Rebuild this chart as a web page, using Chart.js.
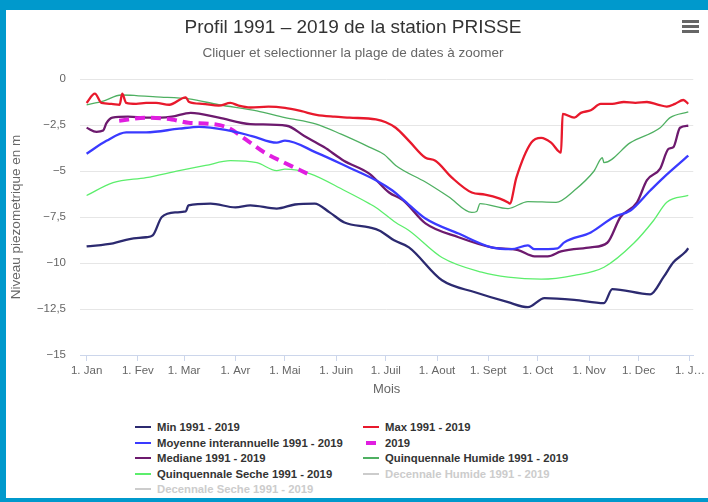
<!DOCTYPE html>
<html>
<head>
<meta charset="utf-8">
<script src="https://cdn.jsdelivr.net/npm/chart.js@4/dist/chart.umd.min.js"></script>
<style>
body{margin:0;background:#0099cc;width:708px;height:502px;overflow:hidden;font-family:"Liberation Sans",Arial,sans-serif}
#box{position:absolute;left:6px;top:10px;width:702px;height:488px;background:#fff}
#wrap{position:absolute;left:0;top:0;width:702px;height:400px}
#menu{position:absolute;left:676px;top:10px;width:17px}
#menu div{height:3px;background:#666;margin-bottom:2px}
.item{position:absolute;font-weight:bold;font-size:11.3px;color:#333;white-space:nowrap;line-height:14px;cursor:pointer}
.sym{position:absolute;top:6px}
</style>
</head>
<body>
<div id="box">
  <div id="wrap"><canvas id="profil"></canvas></div>
  <div id="menu"><div></div><div></div><div></div></div>
  <div id="legend"></div>
</div>
<script>
// jours depuis le 1er janvier, niveau en m
const monthDays = [0,31,59,90,120,151,181,212,243,273,304,334,365];
const monthLabels = ['1. Jan','1. Fev','1. Mar','1. Avr','1. Mai','1. Juin','1. Juil','1. Aout','1. Sept','1. Oct','1. Nov','1. Dec','1. J\u2026'];

const minSerie = [[0,-9.1],[16,-8.93],[26,-8.7],[36,-8.6],[40,-8.5],[45.5,-7.5],[54,-7.25],[60,-7.2],[61.6,-6.87],[75,-6.77],[90,-6.98],[99,-6.87],[115,-7.04],[126,-6.82],[138,-6.77],[147,-7.25],[156,-7.8],[171,-8.07],[177,-8.23],[186,-8.77],[195,-9.15],[215,-10.94],[235,-11.59],[255,-12.13],[267,-12.4],[277,-11.91],[295,-12.0],[313,-12.18],[318,-11.42],[341,-11.7],[349,-10.77],[355,-9.96],[362,-9.42],[364,-9.2]];
const maxSerie = [[0,-1.3],[5,-0.8],[9,-1.3],[15,-1.35],[20,-1.4],[21.5,-0.8],[24,-1.3],[30,-1.35],[36,-1.3],[42,-1.3],[50,-1.4],[60,-1.0],[62,-1.25],[70,-1.35],[80,-1.45],[87,-1.3],[92,-1.45],[99,-1.55],[110,-1.5],[120,-1.57],[130,-1.75],[139,-1.95],[150,-2.05],[159,-2.1],[175,-2.2],[181,-2.35],[187,-2.65],[195,-3.36],[205,-4.28],[211,-4.44],[221,-5.36],[233,-6.17],[241,-6.28],[250,-6.5],[255,-6.71],[256,-6.77],[260,-5.36],[269,-3.46],[275,-3.2],[281,-3.46],[287,-4.0],[288,-1.9],[295,-2.1],[299,-1.84],[305,-1.7],[311,-1.35],[318,-1.35],[325,-1.25],[332,-1.3],[339,-1.25],[346,-1.4],[351,-1.5],[356,-1.35],[361,-1.14],[364,-1.35]];
const moyenneSerie = [[0,-4.06],[12,-3.36],[24,-2.9],[36,-2.9],[56,-2.7],[68,-2.6],[84,-2.76],[100,-3.1],[115,-3.46],[120,-3.35],[139,-4.0],[159,-4.82],[175,-5.5],[185,-6.06],[191.5,-6.55],[205,-7.58],[225,-8.4],[245,-9.15],[257,-9.25],[267,-9.04],[271,-9.25],[285,-9.2],[289,-8.88],[305,-8.34],[319,-7.5],[329,-7.15],[341,-6.06],[349,-5.36],[364,-4.17]];
const serie2019 = [[19.7,-2.27],[36,-2.1],[51.5,-2.2],[61.6,-2.38],[75,-2.44],[85.6,-2.65],[95.8,-3.25],[107.7,-4.0],[119.7,-4.55],[133.5,-5.14]];
const medianeSerie = [[0,-2.65],[6,-2.87],[10,-2.8],[12,-2.4],[15.6,-2.1],[25,-2.05],[36,-2.1],[45,-2.1],[51.5,-2.05],[63,-1.84],[80,-2.1],[99,-2.45],[121,-2.54],[131.7,-3.1],[143.6,-3.7],[155.6,-4.44],[171,-5.14],[183,-6.17],[191.5,-6.6],[205,-7.85],[225,-8.6],[245,-9.15],[261,-9.3],[271,-9.64],[279,-9.64],[287,-9.37],[305,-9.15],[315,-8.9],[323,-7.5],[333,-6.7],[339,-5.5],[347,-4.87],[352,-3.8],[355,-3.7],[359,-2.65],[364,-2.54]];
const quinqHumide = [[0,-1.4],[10,-1.2],[21,-0.87],[30,-0.9],[42,-0.97],[62,-1.08],[80,-1.4],[103,-1.73],[120,-2.1],[139,-2.45],[154,-3.0],[171,-3.7],[180,-4.1],[187,-4.7],[205,-5.6],[219,-6.4],[233,-7.25],[236,-7.2],[238,-6.77],[255,-7.04],[267,-6.66],[284,-6.7],[295,-6.06],[307,-5.0],[312,-4.28],[313,-4.55],[329,-3.46],[347,-2.65],[353,-2.1],[364,-1.79]];
const quinqSeche = [[0,-6.33],[16,-5.63],[36,-5.36],[56,-4.98],[72,-4.7],[87,-4.44],[103,-4.55],[115,-4.98],[120,-4.9],[135,-5.14],[156,-6.06],[171,-6.77],[175,-6.98],[187,-7.8],[195,-8.23],[215,-9.7],[239,-10.5],[255,-10.77],[275,-10.88],[295,-10.67],[313,-10.23],[331,-8.93],[343,-7.69],[351,-6.7],[364,-6.33]];

function pts(s){ return s.map(p => ({x:p[0], y:p[1]})); }
function serie(label, data, color, width, extra){
  return Object.assign({label:label, data:pts(data), borderColor:color, backgroundColor:color,
    borderWidth:width, pointRadius:0, cubicInterpolationMode:'monotone', fill:false}, extra||{});
}

Chart.defaults.font.family = '"Liberation Sans",Arial,sans-serif';

const datasets = [
  serie('Min 1991 - 2019', minSerie, '#2c2a70', 2.3),
  serie('Max 1991 - 2019', maxSerie, '#e8192c', 2.3),
  serie('Moyenne interannuelle 1991 - 2019', moyenneSerie, '#3a3aff', 2.3),
  serie('2019', serie2019, '#e01ee0', 4, {borderDash:[10,6]}),
  serie('Mediane 1991 - 2019', medianeSerie, '#6d1a6e', 2.3),
  serie('Quinquennale Humide 1991 - 2019', quinqHumide, '#4fb062', 1.3),
  serie('Quinquennale Seche 1991 - 2019', quinqSeche, '#5cee6c', 1.3),
  serie('Decennale Humide 1991 - 2019', [], '#cccccc', 1.3, {hidden:true}),
  serie('Decennale Seche 1991 - 2019', [], '#cccccc', 1.3, {hidden:true})
];

const chart = new Chart(document.getElementById('profil').getContext('2d'), {
  type:'line',
  data:{datasets:datasets},
  options:{
    responsive:true,
    maintainAspectRatio:false,
    animation:false,
    layout:{padding:{left:0,right:8,top:0,bottom:0}},
    plugins:{
      legend:{display:false},
      tooltip:{enabled:true},
      title:{display:true,text:'Profil 1991 \u2013 2019 de la station PRISSE',color:'#333',
        font:{size:19,weight:'normal'},padding:{top:6,bottom:2}},
      subtitle:{display:true,text:'Cliquer et selectionner la plage de dates \u00e0 zoomer',color:'#666',
        font:{size:13.5},padding:{top:4,bottom:18}}
    },
    scales:{
      x:{type:'linear',min:-4,max:367,
        afterBuildTicks:s => { s.ticks = monthDays.map(v => ({value:v})); },
        afterFit:s => { s.height = 55; },
        ticks:{autoSkip:false,maxRotation:0,color:'#666',font:{size:11.5},padding:3,
          callback:v => monthLabels[monthDays.indexOf(v)]},
        grid:{drawOnChartArea:false,drawTicks:true,tickLength:6,color:'#ccd6eb'},
        border:{color:'#ccd6eb'},
        title:{display:true,text:'Mois',color:'#666',font:{size:13},padding:{top:0,bottom:13}}
      },
      y:{min:-15,max:0,
        afterFit:s => { s.width = 74; },
        ticks:{stepSize:2.5,color:'#666',font:{size:11.5},padding:14,
          callback:v => String(v).replace('.',',').replace('-','\u2212')},
        grid:{color:'#e6e6e6',drawTicks:false},
        border:{display:false},
        title:{display:true,text:'Niveau piezometrique en m',color:'#666',font:{size:13.5},padding:{top:2,bottom:0}}
      }
    }
  }
});

// legende html sur deux colonnes
const legendEl = document.getElementById('legend');
function drawLegend(){
  legendEl.innerHTML = '';
  chart.data.datasets.forEach((ds, i) => {
    const col = i % 2, row = Math.floor(i / 2);
    const item = document.createElement('div');
    item.className = 'item';
    item.style.left = (col ? 357 : 129) + 'px';
    item.style.top = (410 + row * 15.6) + 'px';
    item.style.paddingLeft = '22px';
    const off = !chart.isDatasetVisible(i);
    item.style.color = off ? '#cccccc' : '#333';
    const sym = document.createElement('span');
    sym.className = 'sym';
    const dashed = !!ds.borderDash;
    sym.style.left = dashed ? '3px' : '0px';
    sym.style.width = dashed ? '10px' : '16px';
    sym.style.height = dashed ? '4px' : '2px';
    if (dashed) sym.style.top = '5px';
    sym.style.background = off ? '#cccccc' : ds.borderColor;
    item.appendChild(sym);
    item.appendChild(document.createTextNode(ds.label));
    item.onclick = () => { chart.setDatasetVisibility(i, off); chart.update(); drawLegend(); };
    legendEl.appendChild(item);
  });
}
drawLegend();
</script>
</body>
</html>
